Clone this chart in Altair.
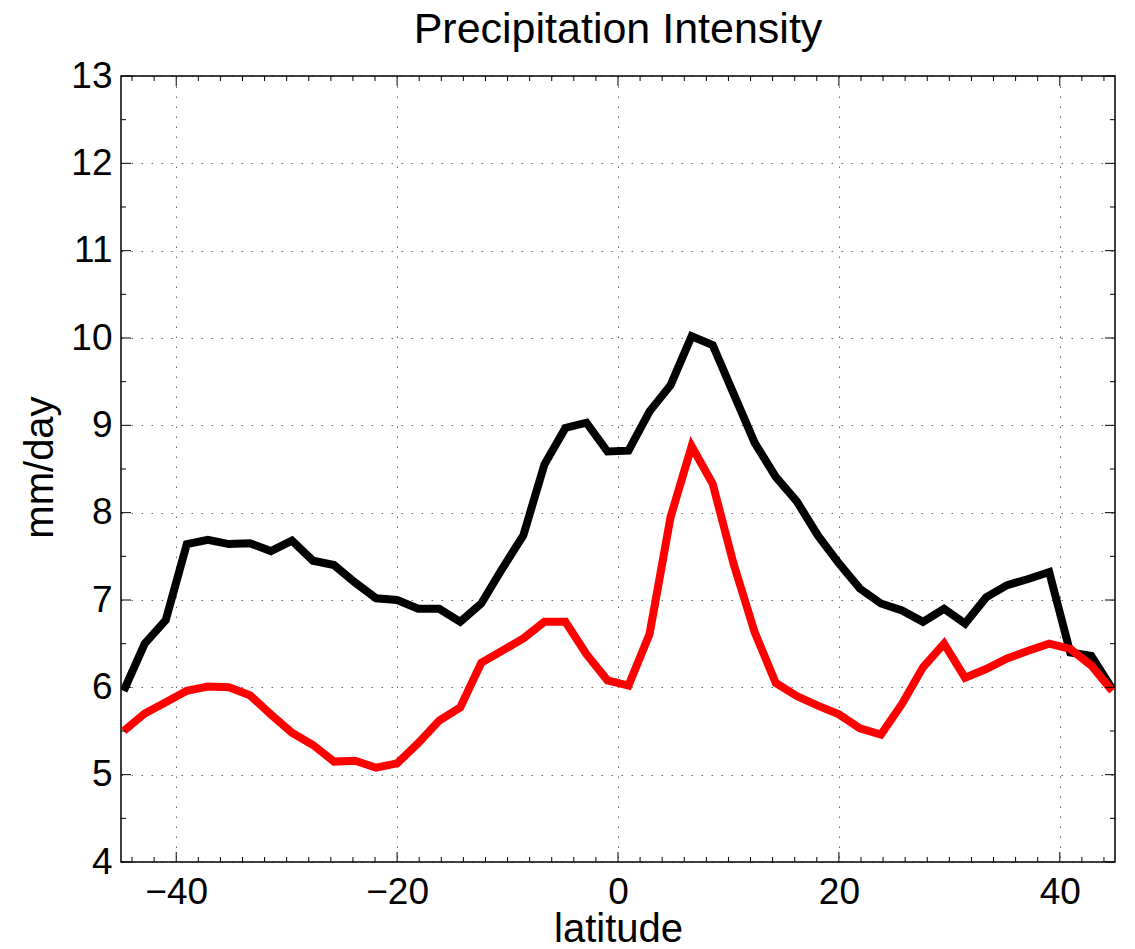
import altair as alt
import pandas as pd

# Gaussian-grid latitudes (deg)
latitude = [-44.757, -42.852, -40.948, -39.043, -37.139, -35.234, -33.330, -31.425,
            -29.521, -27.616, -25.712, -23.807, -21.903, -19.998, -18.094, -16.189,
            -14.284, -12.380, -10.475, -8.571, -6.666, -4.761, -2.857, -0.952,
            0.952, 2.857, 4.761, 6.666, 8.571, 10.475, 12.380, 14.284,
            16.189, 18.094, 19.998, 21.903, 23.807, 25.712, 27.616, 29.521,
            31.425, 33.330, 35.234, 37.139, 39.043, 40.948, 42.852, 44.757]

black_series = [5.96, 6.50, 6.77, 7.64, 7.69, 7.64, 7.65, 7.56,
                7.68, 7.45, 7.40, 7.20, 7.02, 7.00, 6.90, 6.90,
                6.75, 6.96, 7.36, 7.74, 8.55, 8.97, 9.03, 8.70,
                8.71, 9.16, 9.46, 10.02, 9.92, 9.36, 8.80, 8.41,
                8.13, 7.74, 7.42, 7.13, 6.96, 6.88, 6.75, 6.90,
                6.73, 7.03, 7.17, 7.24, 7.32, 6.40, 6.36, 5.98]

red_series = [5.50, 5.70, 5.83, 5.96, 6.01, 6.00, 5.91, 5.69,
              5.48, 5.34, 5.15, 5.16, 5.08, 5.13, 5.36, 5.62,
              5.77, 6.28, 6.42, 6.56, 6.75, 6.75, 6.38, 6.08,
              6.02, 6.61, 7.95, 8.76, 8.33, 7.41, 6.63, 6.05,
              5.90, 5.79, 5.69, 5.53, 5.46, 5.81, 6.23, 6.50,
              6.11, 6.21, 6.33, 6.42, 6.50, 6.44, 6.25, 5.96]

x_major = [-40, -20, 0, 20, 40]
x_minor = [-44, -42, -38, -36, -34, -32, -30, -28, -26, -24, -22,
           -18, -16, -14, -12, -10, -8, -6, -4, -2,
           2, 4, 6, 8, 10, 12, 14, 16, 18,
           22, 24, 26, 28, 30, 32, 34, 36, 38, 42, 44]
y_major = [4, 5, 6, 7, 8, 9, 10, 11, 12, 13]
y_minor = [4.5, 5.5, 6.5, 7.5, 8.5, 9.5, 10.5, 11.5, 12.5]

W, H = 994, 786
FONT = "Liberation Sans"

df = pd.DataFrame({"lat": latitude, "black": black_series, "red": red_series})

xs = alt.Scale(domain=[-45, 45], nice=False, zero=False)
ys = alt.Scale(domain=[4, 13], nice=False, zero=False)

grid_kw = dict(grid=True, gridColor="#000000", gridOpacity=0.6, gridWidth=1,
               gridDash=[1.5, 8.5], ticks=False, tickSize=0, domain=False,
               labelFont=FONT, labelColor="black", titleFont=FONT,
               titleColor="black", titleFontWeight="normal")

x_axis = alt.Axis(values=x_major, labelFontSize=37, labelBaseline="alphabetic",
                  labelPadding=41, title="latitude", titleFontSize=40,
                  titleBaseline="alphabetic", titleY=79, **grid_kw)
y_axis = alt.Axis(values=y_major, labelFontSize=37, labelPadding=9,
                  title="mm/day", titleFontSize=40, titleAngle=270,
                  titleBaseline="alphabetic", titleAlign="center",
                  titleX=-69, titleY=391, **grid_kw)

black_line = alt.Chart(df).mark_line(color="black", strokeWidth=8, clip=True).encode(
    x=alt.X("lat:Q", scale=xs, axis=x_axis),
    y=alt.Y("black:Q", scale=ys, axis=y_axis),
)
red_line = alt.Chart(df).mark_line(color="#ff0000", strokeWidth=8, clip=True).encode(
    x=alt.X("lat:Q", scale=xs, axis=x_axis),
    y=alt.Y("red:Q", scale=ys, axis=y_axis),
)


def xticks(values, length):
    d = pd.DataFrame({"lat": values})
    base = alt.Chart(d).mark_rule(color="black", strokeWidth=1)
    xe = alt.X("lat:Q", scale=xs, axis=x_axis)
    bottom = base.encode(x=xe, y=alt.value(H), y2=alt.value(H - length))
    top = base.encode(x=xe, y=alt.value(0), y2=alt.value(length))
    return [bottom, top]


def yticks(values, length):
    d = pd.DataFrame({"black": values})
    base = alt.Chart(d).mark_rule(color="black", strokeWidth=1)
    ye = alt.Y("black:Q", scale=ys, axis=y_axis)
    left = base.encode(y=ye, x=alt.value(0), x2=alt.value(length))
    right = base.encode(y=ye, x=alt.value(W), x2=alt.value(W - length))
    return [left, right]


layers = [black_line, red_line]
layers += xticks(x_major, 10) + xticks(x_minor, 5)
layers += yticks(y_major, 10) + yticks(y_minor, 5)

chart = alt.layer(*layers).properties(
    width=W,
    height=H,
    title=alt.TitleParams("Precipitation Intensity", font=FONT, fontSize=43,
                          fontWeight="normal", color="black", anchor="middle",
                          offset=5, frame="group"),
    autosize=alt.AutoSizeParams(type="none"),
    padding={"left": 113, "top": 68, "right": 4, "bottom": 86},
).configure_view(stroke="black", strokeWidth=1.5)

chart.save("out.html", embed_options={"renderer": "svg", "actions": False})
